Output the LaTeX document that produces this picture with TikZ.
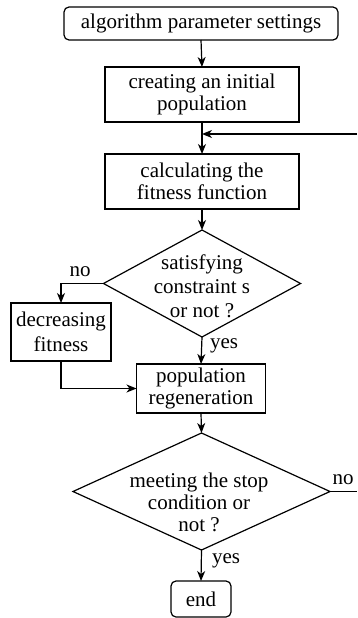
\documentclass[tikz,border=0pt]{standalone}
\usepackage{fontspec}
\setmainfont{Liberation Serif}
\usetikzlibrary{shapes.geometric,arrows.meta}
\begin{document}
\begin{tikzpicture}[x=1pt,y=-1pt,
  every node/.style={font=\fontsize{21}{22}\selectfont, inner sep=0pt, outer sep=0pt},
  box/.style={draw, line width=1.2pt, align=center},
  rbox/.style={box, rounded corners=5pt},
  dia/.style={draw, line width=1.2pt, diamond, minimum width=#1},
  lbl/.style={font=\fontsize{21}{22}\selectfont},
  arr/.style={line width=1.2pt, -{Stealth[length=10pt,width=8pt,inset=3pt]}},
  ln/.style={line width=1.2pt}]
\useasboundingbox (0,0) rectangle (357,618);
% nodes
\node[rbox, minimum width=274pt, minimum height=33pt] (start) at (201,23.5) {algorithm parameter settings};
\node[box, minimum width=194pt, minimum height=55pt] (init) at (202,94.5) {creating an initial\\population};
\node[box, minimum width=194pt, minimum height=55pt] (fit) at (202,181.5) {calculating the\\fitness function};
\node[dia=197pt, minimum height=107pt] (d1) at (202,283.5) {};
\node[align=center, font=\fontsize{21}{24}\selectfont] (d1t) at (202,286) {satisfying\\constraint s\\or not ?};
\node[box, minimum width=100pt, minimum height=58pt, font=\fontsize{21}{25}\selectfont] (dec) at (61,332) {decreasing\\fitness};
\node[box, minimum width=129pt, minimum height=49pt] (pop) at (201,388.5) {population\\regeneration};
\node[dia=257pt, minimum height=117pt] (d2) at (201.5,491.5) {};
\node[align=center] (d2t) at (199,502) {meeting the stop\\condition or\\not ?};
\node[rbox, minimum width=60pt, minimum height=36pt] (end) at (201,599) {end};
% labels
\node[lbl] (no1) at (80,272) {no};
\node[lbl] (yes1) at (224,346) {yes};
\node[lbl] (no2) at (343,480) {no};
\node[lbl] (yes2) at (226,561) {yes};
% free ends
\coordinate (fbR) at (357,134);
\coordinate (noR) at (357,491.5);
% connectors
\draw[arr] (start.south) -- (init.north);
\draw[arr] (init.south) -- (fit.north);
\draw[arr] (fbR) -- (fbR -| fit.north);
\draw[arr] (fit.south) -- (d1.north);
\draw[arr] (d1.west) -| (dec.north);
\draw[arr] (d1.south) -- (pop.north);
\draw[arr] (dec.south) |- (pop.west);
\draw[arr] (pop.south) -- (d2.north);
\draw[ln] (d2.east) -- (noR);
\draw[arr] (d2.south) -- (end.north);
\end{tikzpicture}
\end{document}
